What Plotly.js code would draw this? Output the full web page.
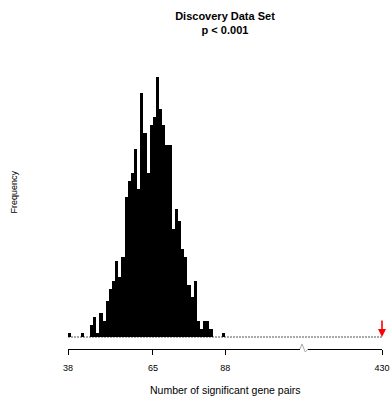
<!DOCTYPE html>
<html>
<head>
<meta charset="utf-8">
<script src="https://cdn.plot.ly/plotly-3.0.1.min.js"></script>
<style>html,body{margin:0;padding:0;background:#fff;}#chart{width:392px;height:400px;}</style>
</head>
<body>
<div id="chart"></div>
<script>
// Histogram bins (left edge of each 1-wide bin) and frequencies
const binStarts = [38,39,40,41,42,43,44,45,46,47,48,49,50,51,52,53,54,55,56,57,58,59,60,61,62,
                   63,64,65,66,67,68,69,70,71,72,73,74,75,76,77,78,79,80,81,82,83,84,85,86,87];
const frequencies = [1,0,0,0,1,0,0,3,5,1,6,4,9,12,14,19,15,20,35,39,41,47,37,61,51,
                     41,53,55,65,57,53,48,48,27,32,29,22,20,13,10,14,4,2,4,4,2,0,0,0,1];
// Observed value (red arrow)
const observedValue = 430;
// Tick labels
const leftTicks = [38, 65, 88];
const rightTicks = [430];

const titleText = '<b>Discovery Data Set</b><br><b>p &lt; 0.001</b>';
const xLabel = 'Number of significant gene pairs';
const yLabel = 'Frequency';

const FONT = 'Liberation Sans, Arial, sans-serif';

const axisCommon = {
  showgrid: false, zeroline: false, showline: true, linecolor: '#000', linewidth: 1,
  ticks: 'outside', ticklen: 5, tickwidth: 1, tickcolor: '#000',
  tickmode: 'array', tickfont: {family: FONT, size: 9, color: '#000'},
  ticklabelstandoff: 5, anchor: 'y', fixedrange: true
};

const data = [{
  type: 'bar', x: binStarts, y: frequencies, offset: 0, width: 1,
  marker: {color: '#000', line: {width: 0}},
  xaxis: 'x', yaxis: 'y', hoverinfo: 'x+y'
}];
// empty trace to register xaxis2 (right segment of the broken axis)
data.push({type: 'scatter', x: [observedValue], y: [null], xaxis: 'x2', yaxis: 'y', mode: 'markers', hoverinfo: 'skip'});

const layout = {
  width: 392, height: 400,
  margin: {l: 68, r: 10, t: 73, b: 51},
  paper_bgcolor: '#fff', plot_bgcolor: '#fff',
  showlegend: false, bargap: 0,
  title: {text: titleText, font: {family: FONT, size: 11, color: '#000'},
          x: 0.5, xref: 'paper', xanchor: 'center', y: 0.95, yref: 'container', yanchor: 'top'},
  xaxis: Object.assign({}, axisCommon, {domain: [0, 0.7389], range: [38, 111.8], tickvals: leftTicks}),
  xaxis2: Object.assign({}, axisCommon, {domain: [0.7643, 1], range: [406.6, observedValue], tickvals: rightTicks}),
  yaxis: {range: [-3, 66], showgrid: false, zeroline: false, showline: false, showticklabels: false,
          ticks: '', fixedrange: true},
  shapes: [
    {type: 'line', xref: 'paper', yref: 'paper', x0: 0, x1: 1, y0: 3/69, y1: 3/69,
     line: {color: '#555', width: 1, dash: '2px,1px'}, layer: 'below'},
    {type: 'path', xref: 'paper', yref: 'paper',
     path: 'M 0.7389,0 L 0.7452,0.0181 L 0.7557,-0.0109 L 0.7643,0',
     line: {color: '#aaa', width: 1}}
  ],
  annotations: [
    {x: observedValue, y: 0, xref: 'x2', yref: 'y', text: '', showarrow: true,
     ax: 0, ay: -18, arrowcolor: '#ff0000', arrowwidth: 1.6, arrowhead: 2, arrowsize: 1, standoff: 0},
    {x: 0.5, y: -0.1486, xref: 'paper', yref: 'paper', text: xLabel, showarrow: false,
     xanchor: 'center', yanchor: 'middle', font: {family: FONT, size: 10.5, color: '#000'}},
    {x: -0.1736, y: 0.569, xref: 'paper', yref: 'paper', text: yLabel, showarrow: false, textangle: -90,
     xanchor: 'center', yanchor: 'middle', font: {family: FONT, size: 9, color: '#000'}}
  ]
};

Plotly.newPlot('chart', data, layout, {displayModeBar: false, staticPlot: true});
</script>
</body>
</html>
